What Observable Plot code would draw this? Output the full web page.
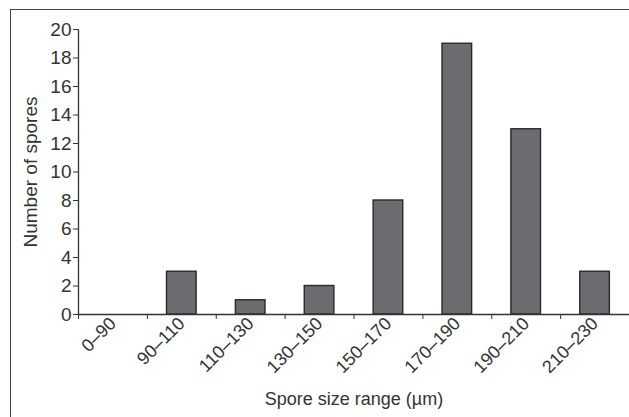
<!DOCTYPE html>
<html>
<head>
<meta charset="utf-8">
<script src="https://cdn.jsdelivr.net/npm/d3@7"></script>
<script src="https://cdn.jsdelivr.net/npm/@observablehq/plot@0.6"></script>
<style>
  html, body { margin: 0; padding: 0; background: #fff; }
  #wrap { position: relative; width: 629px; height: 417px; overflow: hidden; }
  #border { position: absolute; left: 10px; top: 9px; width: 700px; height: 500px;
            border-left: 1.5px solid #444; border-top: 1.5px solid #444; pointer-events: none; }
  svg { font-family: "Liberation Sans", Arial, sans-serif; }
</style>
</head>
<body>
<div id="wrap"><div id="border"></div></div>
<script>
const categories = ["0–90", "90–110", "110–130", "130–150", "150–170", "170–190", "190–210", "210–230"];
const counts = [0, 3, 1, 2, 8, 19, 13, 3];
const yTicks = [0, 2, 4, 6, 8, 10, 12, 14, 16, 18, 20];
const xLabel = "Spore size range (µm)";
const yLabel = "Number of spores";

const data = categories.map((c, i) => ({category: c, index: i, count: counts[i]}));
const barStart = 0.285, barEnd = 0.715;

const textColor = "#333";
const chart = Plot.plot({
  width: 629,
  height: 417,
  marginLeft: 78,
  marginRight: 0,
  marginTop: 29,
  marginBottom: 103,
  style: {fontSize: "18px", color: textColor, background: "transparent", overflow: "visible"},
  x: {type: "linear", domain: [0, categories.length]},
  y: {domain: [0, 20]},
  marks: [
    Plot.rectY(data, {
      x1: d => d.index + barStart,
      x2: d => d.index + barEnd,
      y: "count",
      fill: "#6b6c70",
      stroke: "#2a2a2a",
      strokeWidth: 1.4
    }),
    Plot.ruleY([0], {stroke: "#333", strokeWidth: 1.3}),
    Plot.ruleX([0], {stroke: "#333", strokeWidth: 1.3}),
    Plot.axisY({
      ticks: yTicks,
      tickSize: 5,
      tickPadding: 2,
      stroke: "#333",
      fontSize: 19,
      label: yLabel,
      labelAnchor: "center",
      labelArrow: "none",
      labelOffset: 55
    }),
    Plot.axisX({
      ticks: d3.range(categories.length + 1),
      tickSize: 5,
      tickFormat: () => "",
      label: null,
      stroke: "#333"
    }),
    Plot.axisX({
      ticks: categories.map((c, i) => i + 0.5),
      tickSize: 0,
      tickPadding: 6,
      tickRotate: -45,
      fontSize: 18,
      tickFormat: d => categories[Math.floor(d)],
      label: xLabel,
      labelAnchor: "center",
      labelArrow: "none",
      labelOffset: 90
    })
  ]
});
document.getElementById("wrap").prepend(chart);
</script>
</body>
</html>
